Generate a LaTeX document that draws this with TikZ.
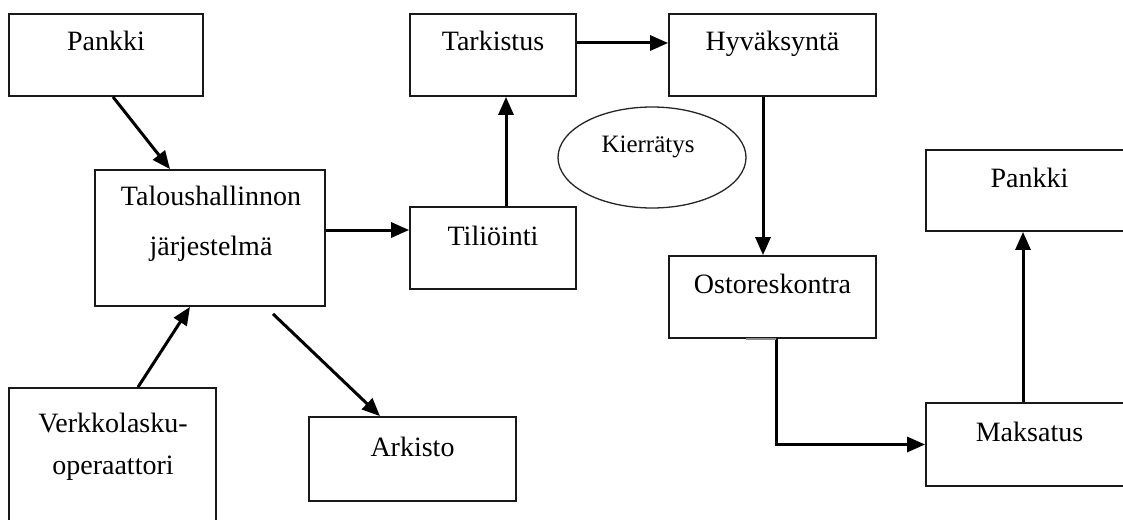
\documentclass[tikz,border=0pt]{standalone}
\usepackage{fontspec}
\setmainfont{Liberation Serif}
\usetikzlibrary{arrows.meta,calc,shapes.geometric}
\begin{document}
\begin{tikzpicture}[x=1pt,y=-1pt,
  box/.style={draw=black!90,line width=1.8pt,rectangle,inner sep=0pt},
  txt/.style={font=\fontsize{28}{30}\selectfont,anchor=base,inner sep=0pt},
  stxt/.style={font=\fontsize{25}{27}\selectfont,anchor=base,inner sep=0pt},
  conn/.style={line width=3pt,-{Triangle[length=18pt,width=15pt]}}]
\useasboundingbox[fill=white] (0,0) rectangle (1123,519);
% boxes
\node[box,minimum width=194pt,minimum height=82pt] (pankkiA) at (106,55) {};
\node[box,minimum width=230pt,minimum height=136pt] (talous) at (210,238) {};
\node[box,minimum width=207pt,minimum height=142pt] (verkko) at (112.5,459) {};
\node[box,minimum width=207pt,minimum height=84pt] (arkisto) at (412.5,459) {};
\node[box,minimum width=166pt,minimum height=82pt] (tarkistus) at (493,55) {};
\node[box,minimum width=166pt,minimum height=82pt] (tilioint) at (493,248) {};
\node[box,minimum width=207pt,minimum height=82pt] (hyv) at (772.5,55) {};
\node[box,minimum width=207pt,minimum height=82pt] (ostor) at (772.5,297) {};
\node[box,minimum width=207pt,minimum height=81pt] (pankkiB) at (1029.5,190.5) {};
\node[box,minimum width=207pt,minimum height=83pt] (maksatus) at (1029.5,444.5) {};
\node[draw=black!85,line width=1.3pt,ellipse,minimum width=188pt,minimum height=101pt,inner sep=0pt] (kierr) at (652,157.5) {};
% texts
\node[txt] (tA) at (106,51) {Pankki};
\node[txt] (tT1) at (211,205) {Taloushallinnon};
\node[txt] (tT2) at (211,255) {järjestelmä};
\node[txt] (tV1) at (113,432) {Verkkolasku-};
\node[txt] (tV2) at (113,474) {operaattori};
\node[txt] (tAr) at (412.5,456) {Arkisto};
\node[txt] (tTa) at (493,51) {Tarkistus};
\node[txt] (tTi) at (493,245) {Tiliöinti};
\node[txt] (tH) at (772.5,51) {Hyväksyntä};
\node[txt] (tO) at (772.5,293) {Ostoreskontra};
\node[txt] (tB) at (1029.5,187) {Pankki};
\node[txt] (tM) at (1029.5,441) {Maksatus};
\node[stxt] (tK) at (648,152) {Kierrätys};
% connectors
\draw[conn] ([xshift=7pt]pankkiA.south) -- ([xshift=-40pt]talous.north);
\draw[conn] ([xshift=25.5pt]verkko.north) -- ([xshift=-20pt]talous.south);
\draw[conn] ([xshift=63pt,yshift=-7pt]talous.south) -- ([xshift=-32.5pt]arkisto.north);
\draw[conn] ([yshift=8pt]talous.east) -- ([yshift=8pt]talous.east -| tilioint.west);
\draw[conn] ([xshift=13pt]tilioint.north) -- ([xshift=13pt]tarkistus.south);
\draw[conn] ([yshift=12pt]tarkistus.east) -- ([yshift=12pt]tarkistus.east -| hyv.west);
\draw[conn] ([xshift=-9.5pt]hyv.south) -- ([xshift=-9.5pt]ostor.north);
\draw[conn] ([xshift=3.5pt]ostor.south) |- (maksatus.west);
\draw[conn] ([xshift=-6.5pt]maksatus.north) -- ([xshift=-6.5pt]pankkiB.south);
\coordinate (gA) at ([xshift=-26.5pt,yshift=-0.5pt]ostor.south);
\coordinate (gB) at ([xshift=3.5pt,yshift=-0.5pt]ostor.south);
\draw[black!45,line width=2pt] (gA) -- (gB);
\end{tikzpicture}
\end{document}
